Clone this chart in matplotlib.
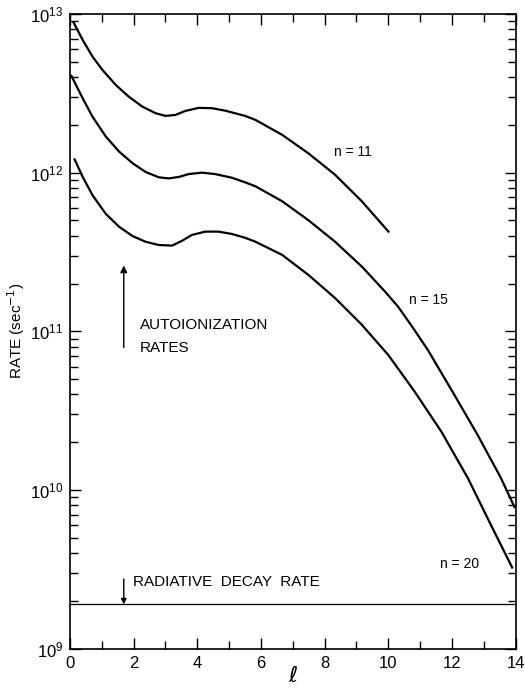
import numpy as np
import matplotlib
matplotlib.use("Agg")
import matplotlib.pyplot as plt
from matplotlib.ticker import LogLocator, MultipleLocator, NullFormatter

plt.rcParams['font.family'] = ['Liberation Sans', 'DejaVu Sans']

# autoionization rates (sec^-1) vs l
l_n11 = [0.10, 0.40, 0.71, 1.02, 1.44, 1.85, 2.27, 2.69, 3.00, 3.31, 3.625,
         4.04, 4.46, 4.875, 5.5, 5.83, 6.67, 7.5, 8.33, 9.17, 10.03]
rate_n11 = [8.94e12, 6.86e12, 5.38e12, 4.44e12, 3.57e12, 3.01e12, 2.61e12,
            2.37e12, 2.28e12, 2.31e12, 2.45e12, 2.56e12, 2.55e12, 2.46e12,
            2.28e12, 2.15e12, 1.73e12, 1.32e12, 9.7e11, 6.6e11, 4.2e11]

l_n15 = [0.03, 0.40, 0.71, 1.125, 1.54, 1.96, 2.375, 2.79, 3.10, 3.42, 3.73,
         4.15, 4.56, 5.08, 5.5, 5.83, 6.67, 7.5, 8.33, 9.17, 9.90, 10.31,
         10.78, 11.25, 12.08, 12.81, 13.54, 13.98]
rate_n15 = [4.13e12, 2.94e12, 2.25e12, 1.69e12, 1.36e12, 1.15e12, 1.01e12,
            9.35e11, 9.2e11, 9.4e11, 9.8e11, 1.00e12, 9.8e11, 9.3e11, 8.7e11,
            8.2e11, 6.6e11, 5.0e11, 3.67e11, 2.56e11, 1.78e11, 1.43e11,
            1.05e11, 7.6e10, 3.97e10, 2.22e10, 1.19e10, 7.7e9]

l_n20 = [0.13, 0.40, 0.71, 1.125, 1.54, 1.96, 2.375, 2.79, 3.21, 3.52, 3.83,
         4.25, 4.67, 5.08, 5.5, 5.83, 6.67, 7.5, 8.33, 9.17, 10.0, 10.83,
         11.67, 12.5, 13.23, 13.91]
rate_n20 = [1.23e12, 9.4e11, 7.2e11, 5.5e11, 4.57e11, 3.99e11, 3.67e11,
            3.50e11, 3.47e11, 3.72e11, 4.05e11, 4.25e11, 4.25e11, 4.11e11,
            3.89e11, 3.67e11, 3.03e11, 2.26e11, 1.62e11, 1.10e11, 7.1e10,
            4.17e10, 2.33e10, 1.19e10, 6.0e9, 3.2e9]

radiative_rate = 1.9e9

fig = plt.figure(figsize=(5.25, 6.9), dpi=100)
ax = fig.add_axes([0.1333, 0.0599, 0.8487, 0.9198])

for ls, rs in [(l_n11, rate_n11), (l_n15, rate_n15), (l_n20, rate_n20)]:
    ax.plot(ls, rs, color='black', lw=1.6, solid_joinstyle='round',
            solid_capstyle='butt')

ax.axhline(radiative_rate, color='black', lw=0.9)

ax.set_yscale('log')
ax.set_xlim(0, 14)
ax.set_ylim(1e9, 1e13)

ax.xaxis.set_major_locator(MultipleLocator(2))
ax.xaxis.set_minor_locator(MultipleLocator(1))
ax.yaxis.set_major_locator(LogLocator(base=10, numticks=10))
ax.yaxis.set_minor_locator(LogLocator(base=10, subs=np.arange(2, 10), numticks=20))
ax.yaxis.set_minor_formatter(NullFormatter())

ax.tick_params(which='both', direction='in', top=True, right=True, width=1.0)
ax.tick_params(which='major', length=8, labelsize=12, pad=5)
ax.tick_params(which='minor', length=6)
for s in ax.spines.values():
    s.set_linewidth(1.2)

ax.set_ylabel(r'RATE (sec$^{-1}$)', fontsize=11, labelpad=2)
ax.set_xlabel(r'$\ell$', fontsize=16, labelpad=-3)

# curve labels
ax.text(8.9, 1.35e12, 'n = 11', fontsize=10, ha='center', va='center')
ax.text(11.25, 1.58e11, 'n = 15', fontsize=10, ha='center', va='center')
ax.text(12.25, 3.4e9, 'n = 20', fontsize=10, ha='center', va='center')

# annotations
ax.annotate('', xy=(1.69, 2.6e11), xytext=(1.69, 7.9e10),
            arrowprops=dict(arrowstyle='-|>', color='black', lw=1.0,
                            mutation_scale=10, shrinkA=0, shrinkB=0))
ax.text(2.2, 1.1e11, 'AUTOIONIZATION', fontsize=11, ha='left', va='center')
ax.text(2.2, 7.9e10, 'RATES', fontsize=11, ha='left', va='center')

ax.annotate('', xy=(1.69, radiative_rate), xytext=(1.69, 2.75e9),
            arrowprops=dict(arrowstyle='-|>', color='black', lw=1.0,
                            mutation_scale=8, shrinkA=0, shrinkB=0))
ax.text(1.97, 2.65e9, 'RADIATIVE  DECAY  RATE', fontsize=11, ha='left', va='center')

fig.savefig('out.png', dpi=100)
